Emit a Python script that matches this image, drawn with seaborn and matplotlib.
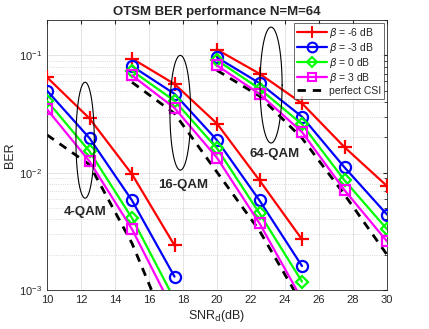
import numpy as np
import pandas as pd
import matplotlib
matplotlib.use("Agg")
import matplotlib.pyplot as plt
from matplotlib.lines import Line2D
import seaborn as sns

# data
snr_4 = [10, 12.5, 15, 17.5]
snr_16 = [15, 17.5, 20, 22.5, 25]
snr_64 = [20, 22.5, 25, 27.5, 30]

ber_4_m6 = [0.065, 0.029, 0.0097, 0.0024]
ber_4_m3 = [0.050, 0.0197, 0.0058, 0.0013]
ber_4_0 = [0.041, 0.0152, 0.0041, 0.00083]
ber_4_3 = [0.0347, 0.0125, 0.0033, 0.00064]
ber_4_csi = [0.021, 0.0117, 0.0025, 0.00034]

ber_16_m6 = [0.094, 0.057, 0.0262, 0.0086, 0.0027]
ber_16_m3 = [0.081, 0.047, 0.0189, 0.0058, 0.0016]
ber_16_0 = [0.074, 0.041, 0.0161, 0.0045, 0.00118]
ber_16_3 = [0.0675, 0.0356, 0.0134, 0.0037, 0.00083]
ber_16_csi = [0.059, 0.032, 0.0101, 0.0032, 0.00076]

ber_64_m6 = [0.112, 0.0698, 0.039, 0.0165, 0.0077]
ber_64_m3 = [0.096, 0.058, 0.030, 0.0111, 0.0044]
ber_64_0 = [0.091, 0.052, 0.0259, 0.0086, 0.0033]
ber_64_3 = [0.082, 0.047, 0.0222, 0.0071, 0.0026]
ber_64_csi = [0.0745, 0.045, 0.0197, 0.0065, 0.0020]

beta_labels = [r"$\beta$ = -6 dB", r"$\beta$ = -3 dB", r"$\beta$ = 0 dB", r"$\beta$ = 3 dB"]
qam_labels = ["4-QAM", "16-QAM", "64-QAM"]
# ellipse centre x, centre log10(BER), half width, half height (decades)
ell_cx = [12.24, 17.84, 23.18]
ell_cy = [-1.723, -1.489, -1.253]
ell_w = [0.54, 0.61, 0.65]
ell_h = [0.494, 0.489, 0.494]
txt_x = [12.27, 18.02, 23.41]
txt_y = [0.00464, 0.00783, 0.01435]

groups = [
    (snr_4, [ber_4_m6, ber_4_m3, ber_4_0, ber_4_3], ber_4_csi),
    (snr_16, [ber_16_m6, ber_16_m3, ber_16_0, ber_16_3], ber_16_csi),
    (snr_64, [ber_64_m6, ber_64_m3, ber_64_0, ber_64_3], ber_64_csi),
]

colors = ["#ff0000", "#0000ff", "#00ff00", "#ff00ff"]
markers = ["+", "o", "D", "s"]
msizes = [10, 8, 6.5, 6.5]

sns.set_style("white")
plt.rcParams["font.family"] = ["Liberation Sans", "DejaVu Sans"]
plt.rcParams["mathtext.fontset"] = "dejavusans"

fig = plt.figure(figsize=(4.29, 3.29), dpi=100)
ax = fig.add_axes([0.1096, 0.1185, 0.7925, 0.8205])

for snr, curves, csi in groups:
    for i, vals in enumerate(curves):
        df = pd.DataFrame({"snr": snr, "ber": vals})
        sns.lineplot(data=df, x="snr", y="ber", ax=ax, color=colors[i],
                     marker=markers[i], markersize=msizes[i], linewidth=1.6,
                     markerfacecolor="none", markeredgecolor=colors[i],
                     markeredgewidth=1.6, zorder=3)
    dfc = pd.DataFrame({"snr": snr, "ber": csi})
    sns.lineplot(data=dfc, x="snr", y="ber", ax=ax, color="black",
                 linewidth=2.0, linestyle=(0, (3, 2.5)), zorder=2)

t = np.linspace(0, 2 * np.pi, 200)
for k in range(3):
    ax.plot(ell_cx[k] + ell_w[k] * np.cos(t), 10 ** (ell_cy[k] + ell_h[k] * np.sin(t)),
            color="black", linewidth=0.8, zorder=4)
    ax.text(txt_x[k], txt_y[k], qam_labels[k], fontsize=9.5, fontweight="bold",
            ha="center", va="center", zorder=5)

ax.set_yscale("log")
ax.set_xlim(10, 30)
ax.set_ylim(1e-3, 0.2)
ax.set_xticks(np.arange(10, 31, 2))
ax.tick_params(axis="both", which="both", direction="in", labelsize=8, colors="#262626",
               top=True, right=True, length=3)
ax.tick_params(axis="y", which="minor", length=2)
ax.grid(True, which="major", color="#e0e0e0", linewidth=0.6)
ax.grid(True, which="minor", axis="y", color="#d0d0d0", linestyle=":", linewidth=0.6)
for s in ax.spines.values():
    s.set_color("#262626")
    s.set_linewidth(0.6)

ax.set_title("OTSM BER performance N=M=64", fontsize=9.5, fontweight="bold", pad=4)
ax.set_xlabel(r"SNR$_\mathrm{d}$(dB)", fontsize=9, color="#262626", labelpad=2)
ax.set_ylabel("BER", fontsize=9, color="#262626", labelpad=2)

leg_sizes = [9, 7, 5.5, 5.5]
handles = [Line2D([], [], color=colors[i], marker=markers[i], markersize=leg_sizes[i],
                  markerfacecolor="none", markeredgewidth=1.5, linewidth=1.6)
           for i in range(4)]
handles.append(Line2D([], [], color="black", linewidth=2.0, linestyle=(0, (3, 2.5))))
leg = ax.legend(handles, beta_labels + ["perfect CSI"], loc="upper right", fontsize=7.5,
                frameon=True, fancybox=False, handlelength=2.9, handletextpad=0.2,
                borderpad=0.25, labelspacing=0.1, borderaxespad=0.3)
leg.get_frame().set_edgecolor("#262626")
leg.get_frame().set_linewidth(0.6)
leg.set_zorder(6)

fig.savefig("out.png", dpi=100)
